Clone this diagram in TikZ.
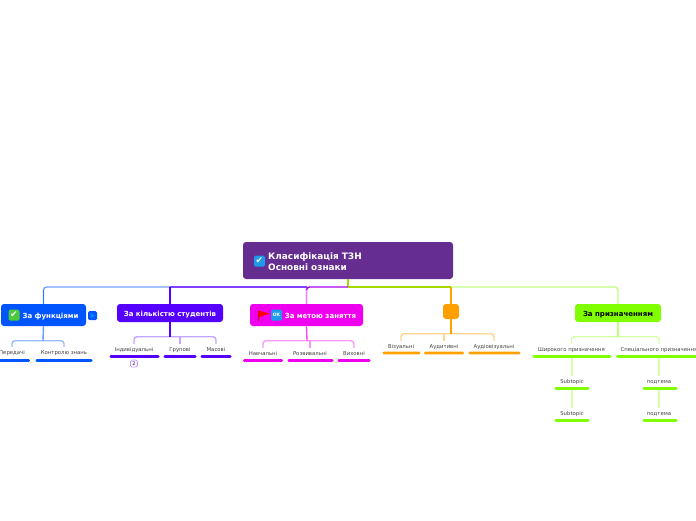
\documentclass[tikz,border=0pt]{standalone}
\usepackage{fontspec}
\usetikzlibrary{calc}
\setmainfont{DejaVu Sans}
\definecolor{rootc}{HTML}{662D91}
\definecolor{bluec}{HTML}{0055FF}
\definecolor{violc}{HTML}{5500FF}
\definecolor{magc}{HTML}{EE00EE}
\definecolor{orc}{HTML}{FF9F00}
\definecolor{limc}{HTML}{80FF00}
\definecolor{skyc}{HTML}{1E9BE8}
\definecolor{checkc}{HTML}{4CC83C}
\tikzset{
  topic/.style={fill=#1, rounded corners=3pt, inner sep=0pt, font=\bfseries\fontsize{7}{8}\selectfont, text=white, text height=6.8pt, text depth=0.4pt},
  leaf/.style={inner sep=0pt, minimum height=10pt, font=\fontsize{5.35}{6}\selectfont, text=black!75, text height=5.2pt, text depth=0.4pt},
  bar/.style={fill=#1, rounded corners=1.2pt, inner sep=0pt, minimum height=2.6pt},
  icon/.style={fill=#1, rounded corners=1.5pt, inner sep=0pt, minimum size=11pt, text=white},
  link/.style={draw=#1, line width=1.4pt, rounded corners=3pt},
}
\begin{document}
\begin{tikzpicture}[x=1pt,y=-1pt]
  \useasboundingbox (0,0) rectangle (696,520);
  %
  \coordinate (o) at (348,287);
  \coordinate (k1) at (43,340.7);
  \coordinate (k2) at (170,336.7);
  \coordinate (k3) at (307,340.7);
  \coordinate (k4) at (451,333.7);
  \coordinate (k5) at (618,336.7);
  %
  \node[topic=rootc, minimum width=210pt, minimum height=37pt] (root) at (348,260.5) {};
  \node[anchor=west, align=left, inner sep=0pt, text=white, font=\bfseries\fontsize{8.9}{11}\selectfont] (roottext) at (268,262) {Класифікація ТЗН\\Основні ознаки};
  \node[topic=bluec, minimum width=85pt, minimum height=22pt] (n1) at (43.5,315) {\hspace*{14pt}За функціями};
  \node[topic=violc, minimum width=106pt, minimum height=18pt] (n2) at (170,313) {За кількістю студентів};
  \node[topic=magc, minimum width=113pt, minimum height=22pt] (n3) at (306.5,315) {\hspace*{28pt}За метою заняття};
  \node[topic=orc, minimum width=16pt, minimum height=15pt] (n4) at (451,311.5) {};
  \node[topic=limc, minimum width=86pt, minimum height=18pt, text=black] (n5) at (618,313) {За призначенням};
  %
  \node[leaf] (t11) at (12,352) {Передачі};
  \node[leaf] (t12) at (64,352) {Контролю знань};
  \node[leaf] (t21) at (134,349) {Індивідуальні};
  \node[leaf] (t22) at (180,349) {Групові};
  \node[leaf] (t23) at (216,349) {Масові};
  \node[leaf] (t31) at (263,353) {Навчальні};
  \node[leaf] (t32) at (310,353) {Розвивальні};
  \node[leaf] (t33) at (354,353) {Виховні};
  \node[leaf] (t41) at (401,346) {Візуальні};
  \node[leaf] (t42) at (444,346) {Аудитивні};
  \node[leaf] (t43) at (494,346) {Аудіовізуальні};
  \node[leaf] (t51) at (571.5,349) {Широкого призначення};
  \node[leaf] (t52) at (659,349) {Спеціального призначення};
  \node[leaf] (t53) at (572,381) {Subtopic};
  \node[leaf] (t54) at (572,413) {Subtopic};
  \node[leaf] (t55) at (659,381) {подтема};
  \node[leaf] (t56) at (659,413) {подтема};
  %
  \node[bar=bluec, minimum width=33pt] (b11) at (13.5,360.5) {};
  \node[bar=bluec, minimum width=57pt] (b12) at (64,360.5) {};
  \node[bar=violc, minimum width=50pt] (b21) at (134.5,356.5) {};
  \node[bar=violc, minimum width=33pt] (b22) at (180,356.5) {};
  \node[bar=violc, minimum width=31pt] (b23) at (216,356.5) {};
  \node[bar=magc, minimum width=40pt] (b31) at (263,360.5) {};
  \node[bar=magc, minimum width=46pt] (b32) at (310.5,360.5) {};
  \node[bar=magc, minimum width=33pt] (b33) at (354,360.5) {};
  \node[bar=orc, minimum width=38pt] (b41) at (401.5,353) {};
  \node[bar=orc, minimum width=40pt] (b42) at (444,353) {};
  \node[bar=orc, minimum width=52pt] (b43) at (494.5,353) {};
  \node[bar=limc, minimum width=79pt] (b51) at (572,356.5) {};
  \node[bar=limc, minimum width=84pt] (b52) at (658,356.5) {};
  \node[bar=limc, minimum width=35pt] (b53) at (572,388.5) {};
  \node[bar=limc, minimum width=35pt] (b54) at (572,420.5) {};
  \node[bar=limc, minimum width=35pt] (b55) at (660,388.5) {};
  \node[bar=limc, minimum width=35pt] (b56) at (660,420.5) {};
  %
  \draw[link=limc!70!orange] (root.south) -- (o);
  \draw[link=bluec!55!white] (n1.north) |- (n2.north |- o);
  \draw[link=violc!75!white] (n2.north |- o) -- (n3.north |- o);
  \draw[link=magc!55!violc] (n3.north) |- (o);
  \draw[link=limc!70!orange] (o) -- (n4.north |- o);
  \draw[link=limc!50!white] (n4.north |- o) -| (n5.north);
  \draw[link=violc] (n2.north) -- (n2.north |- o);
  \draw[link=magc!50!white] (n3.north) -- ($(n3.north |- o)+(0,3)$);
  \draw[link=orc] (n4.north) -- (n4.north |- o);
  \draw[link=bluec!80!white] (n1.north) -- ($(n1.north |- o)+(0,3)$);
  %
  \draw[link=bluec!40!white] (t11.north) |- (k1) -| (t12.north);
  \draw[link=violc!35!white] (t21.north) |- (k2) -| (t23.north);
  \draw[link=violc!35!white] (k2 -| t22) -- (t22.north);
  \draw[link=magc!40!white] (t31.north) |- (k3) -| (t33.north);
  \draw[link=magc!40!white] (k3 -| t32) -- (t32.north);
  \draw[link=orc!45!white] (t41.north) |- (k4) -| (t43.north);
  \draw[link=orc!45!white] (k4 -| t42) -- (t42.north);
  \draw[link=limc!35!white] (t51.north) |- (k5) -| (t52.north);
  %
  \draw[link=bluec!60!white] (n1.south) -- (k1);
  \draw[link=violc] (n2.south) -- (k2);
  \draw[link=magc!70!white] (n3.south) -- (k3);
  \draw[link=orc] (n4.south) -- (k4);
  \draw[link=limc!50!white] (n5.south) -- (k5);
  %
  \draw[link=limc!35!white] (b51.south) -- (t53.north);
  \draw[link=limc!35!white] (b53.south) -- (t54.north);
  \draw[link=limc!35!white] (b52.south -| t52) -- (t55.north);
  \draw[link=limc!35!white] (b55.south -| t55) -- (t56.north);
  %
  \node[icon=skyc, font=\fontsize{9}{9}\selectfont] (rooticon) at (259.5,261) {✔};
  \node[icon=checkc, font=\fontsize{9}{9}\selectfont] (n1icon) at (14,315) {✔};
  \node[fill=bluec, rounded corners=1.5pt, minimum size=9pt, inner sep=0pt] (n1tag) at (92.5,315.5) {};
  \fill[bluec!70!cyan] ($(n1tag)+(-2,-2.5)$) -- ($(n1tag)+(3,0)$) -- ($(n1tag)+(-2,2.5)$) -- cycle;
  \node[icon=skyc, font=\bfseries\fontsize{4.5}{5}\selectfont] (n3ok) at (276.5,315) {OK};
  \coordinate (flag) at (258.5,310.5);
  \draw[red!70!black, line width=0.6pt] (flag) -- ++(0,10);
  \fill[red] (flag) -- ++(11,3) -- ++(-11,4) -- cycle;
  \node[draw=violc!40!white, fill=white, rounded corners=1.5pt, line width=0.7pt, minimum size=7pt, inner sep=0pt, text=violc!60!black, font=\fontsize{5}{5}\selectfont] (t21tag) at (134,363.5) {2};
\end{tikzpicture}
\end{document}
